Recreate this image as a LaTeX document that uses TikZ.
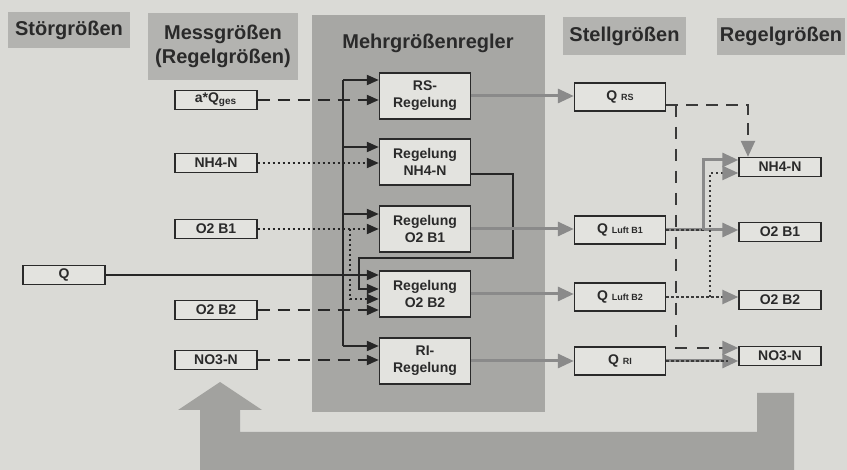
\documentclass[tikz,border=0pt]{standalone}
\usepackage{fontspec}
\setmainfont{Liberation Sans}
\usetikzlibrary{arrows.meta}

\definecolor{papier}{HTML}{DADAD6}
\definecolor{kopf}{HTML}{B3B3B0}
\definecolor{reglerfeld}{HTML}{A7A7A4}
\definecolor{kasten}{HTML}{E3E3DF}
\definecolor{rand}{HTML}{2A2A2A}
\definecolor{pfeilgrau}{HTML}{8A8A8A}
\definecolor{rueck}{HTML}{A2A29F}
\definecolor{dunkel}{HTML}{3A3A3A}

\newcommand{\klein}[1]{{\fontsize{4.5}{5}\selectfont #1}}

\tikzset{
  kopfbox/.style={fill=kopf, text=rand, font=\fontsize{10}{12}\selectfont\bfseries, align=center, inner sep=0pt},
  grbox/.style={draw=rand, line width=0.7pt, fill=kasten, text=rand, font=\fontsize{7}{8.5}\selectfont\bfseries, inner sep=0pt, align=center},
  mess/.style={grbox, minimum width=41pt, minimum height=9.5pt},
  regbox/.style={grbox, minimum width=45.5pt, minimum height=23pt},
  stellbox/.style={grbox, minimum width=45.5pt, minimum height=14pt},
  sig/.style={line width=1pt, draw=black!85, -{Triangle[length=6pt,width=5pt]}},
  grau/.style={line width=1.5pt, draw=pfeilgrau, -{Triangle[length=8pt,width=7pt]}},
  rueckstrich/.style={line width=1.2pt, draw=dunkel, -{Triangle[length=8pt,width=7pt,color=pfeilgrau]}},
  gestrichelt/.style={dash pattern=on 6pt off 4pt},
  gepunktet/.style={dash pattern=on 1.2pt off 1.3pt}
}

\begin{document}
\begin{tikzpicture}[x=0.5pt,y=-0.5pt]
    % hintergrund
    \fill[papier] (0,0) rectangle (847,470);
    \useasboundingbox (0,0) rectangle (847,470);

    % feld mehrgroessenregler
    \fill[reglerfeld] (312,15) rectangle (545,412);
    \node[text=rand, font=\fontsize{10}{12}\selectfont\bfseries] (titel) at (428,43) {Mehrgrößenregler};

    % rueckfuehrung
    \fill[rueck] (200,470) -- (200,410) -- (178,410) -- (220,382) -- (262,410) -- (240,410)
        -- (240,432) -- (757,432) -- (757,393) -- (794,393) -- (794,470) -- cycle;

    % spaltenkoepfe
    \node[kopfbox, minimum width=61pt, minimum height=18pt] (stoer) at (69,30) {Störgrößen};
    \node[kopfbox, minimum width=75pt, minimum height=33.5pt] (messkopf) at (223,46.5) {Messgrößen\\(Regelgrößen)};
    \node[kopfbox, minimum width=61.5pt, minimum height=19pt] (stellkopf) at (624.5,36) {Stellgrößen};
    \node[kopfbox, minimum width=64pt, minimum height=18.5pt] (regelkopf) at (781,36.5) {Regelgrößen};

    % messgroessen
    \node[mess] (aq) at (216,100) {a*Q\textsubscript{ges}};
    \node[mess] (nh) at (216,163) {NH4-N};
    \node[mess] (ob1) at (216,229) {O2 B1};
    \node[mess] (ob2) at (216,310) {O2 B2};
    \node[mess] (no3) at (216,360) {NO3-N};
    \node[mess] (q) at (64,275) {Q};

    % regler
    \node[regbox] (rs) at (425,96) {RS-\\Regelung};
    \node[regbox] (rnh) at (425,162) {Regelung\\NH4-N};
    \node[regbox] (ro1) at (425,229) {Regelung\\O2 B1};
    \node[regbox] (ro2) at (425,294) {Regelung\\O2 B2};
    \node[regbox] (rri) at (425,361) {RI-\\Regelung};

    % stellgroessen
    \node[stellbox] (qrs) at (620,97) {Q \klein{RS}};
    \node[stellbox] (ql1) at (620,230) {Q \klein{Luft B1}};
    \node[stellbox] (ql2) at (620,297) {Q \klein{Luft B2}};
    \node[stellbox] (qri) at (620,361) {Q \klein{RI}};

    % regelgroessen
    \node[mess] (gnh) at (780,167) {NH4-N};
    \node[mess] (go1) at (780,232) {O2 B1};
    \node[mess] (go2) at (780,300) {O2 B2};
    \node[mess] (gno3) at (780,356) {NO3-N};

    % stoergroesse Q auf alle regler
    \coordinate (b1) at (343,80);
    \coordinate (b2) at (343,346);
    \draw[sig] (q.east) -- (q.east -| ro2.west);
    \draw[line width=1pt, black!85] (b1) -- (b2);
    \foreach \y/\r in {80/rs,147/rnh,214/ro1,346/rri}{
        \coordinate (abzw) at (343,\y);
        \draw[sig] (abzw) -- (abzw -| \r.west);
    }

    % messgroessen auf regler
    \draw[sig, gestrichelt] (aq.east) -- (aq.east -| rs.west);
    \draw[sig, gepunktet] (nh.east) -- (nh.east -| rnh.west);
    \draw[sig, gepunktet] (ob1.east) -- (ob1.east -| ro1.west);
    \coordinate (p1) at (350,229);
    \draw[sig, gepunktet] (p1) |- ([yshift=-2.5pt]ro2.west);
    \draw[sig, gestrichelt] (ob2.east) -- (ob2.east -| ro2.west);
    \draw[sig, gestrichelt] (no3.east) -- (no3.east -| rri.west);

    % NH4-N regler auf O2 B2 regler
    \draw[sig, line width=0.7pt] ([yshift=-6pt]rnh.east) -| (513,258) -| (359,289) -- ([yshift=2.5pt]ro2.west);

    % stellgroessen
    \draw[grau] (rs.east) -- (rs.east -| qrs.west);
    \draw[grau] (ro1.east) -- (ro1.east -| ql1.west);
    \draw[grau] (ro2.east) -- (ro2.east -| ql2.west);
    \draw[grau] (rri.east) -- (rri.east -| qri.west);

    % wirkung auf regelgroessen
    \draw[rueckstrich, gestrichelt] ([yshift=-4pt]qrs.east) -| ([xshift=-16pt]gnh.north);
    \coordinate (p2) at (676,105);
    \draw[rueckstrich, dash pattern=on 6pt off 5pt] (p2) |- ([yshift=4pt]gno3.west);
    \draw[grau] (ql1.east) -- (ql1.east -| go1.west);
    \draw[line width=1.2pt, dunkel, gepunktet] (ql1.east) -- ++(38,0);
    \coordinate (p3) at (703,230);
    \draw[grau] (p3) |- ([yshift=3.5pt]gnh.west);
    \draw[rueckstrich, gepunktet] (ql2.east) -- (ql2.east -| go2.west);
    \coordinate (p4) at (710,297);
    \draw[rueckstrich, gepunktet] (p4) |- ([yshift=-3pt]gnh.west);
    \draw[grau] (qri.east) -- (qri.east -| gno3.west);
    \draw[line width=1.2pt, dunkel, gepunktet] (qri.east) -- ++(62,0);
\end{tikzpicture}
\end{document}
